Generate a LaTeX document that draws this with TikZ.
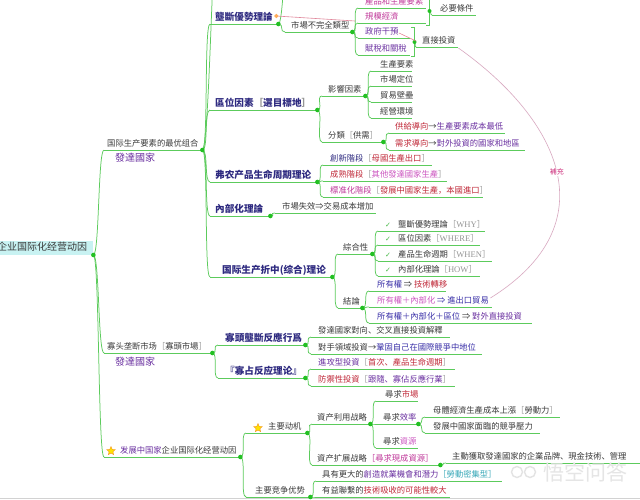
\documentclass[tikz,border=0pt]{standalone}
\usepackage{fontspec}
\setmainfont{Noto Sans CJK SC}
\newfontfamily\lat{Liberation Serif}
\newfontfamily\dv{DejaVu Sans}
\usetikzlibrary{shapes.geometric,calc}
\definecolor{cK}{HTML}{3A3A3A}
\definecolor{cI}{HTML}{2E2A80}
\definecolor{cP}{HTML}{6A30A0}
\definecolor{cM}{HTML}{C0389A}
\definecolor{cR}{HTML}{C02838}
\definecolor{cN}{HTML}{CC55C0}
\definecolor{cB}{HTML}{3A30A8}
\definecolor{cG}{HTML}{959595}
\definecolor{cT}{HTML}{38A8B8}
\definecolor{lg}{HTML}{5CCB5C}
\definecolor{bg}{HTML}{22C022}
\definecolor{rootc}{HTML}{C8F2F2}
\definecolor{relc}{HTML}{D8A8C0}
\newcommand\mybx[3]{\makebox[#2pt][l]{\hspace*{#1pt}#3}}
\newcommand\gbr[1]{\textcolor{cG}{［}#1\textcolor{cG}{］}}
\newcommand\ltn[1]{\textcolor{cG}{［{\lat\fontsize{8.6}{9}\selectfont #1}］}}
\begin{document}
\begin{tikzpicture}[x=1pt,y=-1pt,
  t/.style={anchor=south west, inner xsep=0pt, inner ysep=1.5pt, text height=6.4pt, text depth=1.4pt, font=\fontsize{8.3}{9}\selectfont, text=cK},
  lv/.style={font=\fontsize{9.6}{10}\selectfont\bfseries, text=cI, text height=7.4pt, text depth=1.7pt},
  br/.style={draw=lg, line width=0.75pt},
  blob/.style={fill=bg},
  rel/.style={draw=relc, line width=0.6pt},
  strs/.style={star, star points=5, star point ratio=2.2, fill=yellow!85!orange, draw=orange!80!brown, line width=0.3pt, minimum size=9pt, inner sep=0pt},
  ick/.style={text=green!45!gray, font=\dv\fontsize{7}{8}\selectfont, inner sep=0pt},
  fa/.style={anchor=west, inner sep=0pt, font=\fontsize{10}{11}\selectfont, text=cP}
]
\useasboundingbox (0,0) rectangle (640,499);
\clip (0,0) rectangle (640,499);
\fill[white] (0,0) rectangle (640,499);
\draw[gray!35] (0,498.2) -- (640,498.2);

% root
\node[t, fill=rootc, inner ysep=2.5pt, font=\fontsize{10}{11}\selectfont, text height=7.6pt, text depth=1.6pt] (root) at (-5,255) {\mybx{2}{98}{企业国际化经营动因}};

% level 1
\node[t] (L1a) at (104,150) {\mybx{3}{98}{国际生产要素的最优组合}};
\node[fa] (dv1) at (115,157.5) {發達國家};
\node[t] (L1b) at (104,353) {\mybx{3}{108}{寡头垄断市场\gbr{寡頭市場}}};
\node[fa] (dv2) at (115,362) {發達國家};
\node[t] (L1c) at (104,457) {\mybx{16}{136}{\textcolor{cP}{发展中国家}企业国际化经营动因}};
\node[strs] (s1) at (111,451) {};

% level 2
\node[t,lv] (A1) at (210,24) {\mybx{5}{68}{壟斷優勢理論}};
\node[t,lv] (A2) at (210,110) {\mybx{5}{107}{區位因素\textcolor{cG}{［}選目標地\textcolor{cG}{］}}};
\node[t,lv] (A3) at (210,182) {\mybx{5}{107}{弗农产品生命周期理论}};
\node[t,lv] (A4) at (210,216) {\mybx{5}{60}{內部化理論}};
\node[t,lv] (A5) at (210,277) {\mybx{12}{122}{国际生产折中(综合)理论}};
\node[t,lv] (A6) at (218,345) {\mybx{7}{87}{寡頭壟斷反應行爲}};
\node[t,lv] (A7) at (218,378) {\mybx{7}{87}{『寡占反应理论』}};
\node[t] (A8) at (246,433) {\mybx{22}{61}{主要动机}};
\node[strs] (s2) at (258,428) {};
\node[t] (A9) at (246,497) {\mybx{9}{64}{主要竞争优势}};

% level 3
\node[t] (B1) at (285,32) {\mybx{6}{67}{市場不完全類型}};
\node[t] (B2) at (322,96) {\mybx{6}{43}{影響因素}};
\node[t] (B3) at (322,142) {\mybx{6}{61}{分類\gbr{供需}}};
\node[t] (B4) at (323,165) {\mybx{7}{109}{\textcolor{cI}{創新階段}\gbr{\textcolor{cR}{母國生產出口}}}};
\node[t] (B5) at (323,181) {\mybx{7}{124}{\textcolor{cR}{成熟階段}\gbr{\textcolor{cN}{其他發達國家生產}}}};
\node[t] (B6) at (323,197) {\mybx{7}{160}{\textcolor{cM}{標准化階段}\gbr{\textcolor{cR}{發展中國家生產，本國進口}}}};
\node[t] (B7) at (275,213) {\mybx{7}{101}{市場失效⇒交易成本增加}};
\node[t] (B8) at (338,254) {\mybx{5}{34}{綜合性}};
\node[t] (B9) at (338,308) {\mybx{5}{24}{結論}};
\node[t] (B10) at (311,337) {\mybx{7}{139}{發達國家對向、交叉直接投資解釋}};
\node[t] (B11) at (311,354) {\mybx{7}{171}{對手領域投資→\textcolor{cB}{鞏固自己在國際競爭中地位}}};
\node[t] (B12) at (311,369) {\mybx{7}{144}{\textcolor{cP}{進攻型投資}\gbr{\textcolor{cR}{首次、產品生命週期}}}};
\node[t] (B13) at (311,386) {\mybx{7}{144}{\textcolor{cR}{防禦性投資}\gbr{\textcolor{cP}{跟隨、寡佔反應行業}}}};
\node[t] (B14) at (312,424) {\mybx{5}{58}{資产利用战略}};
\node[t] (B15) at (312,465) {\mybx{5}{128}{資产扩展战略\textcolor{cM}{［尋求現成資源］}}};
\node[t] (B16) at (316,481) {\mybx{6}{186}{具有更大的\textcolor{cP}{創造就業機會和潛力}\textcolor{cT}{［勞動密集型］}}};
\node[t] (B17) at (316,497) {\mybx{6}{134}{有益聯繫的\textcolor{cR}{技術吸收的可能性較大}}};

% level 4
\node[t] (C1) at (358,8) {\mybx{7}{68}{\textcolor{cM}{產品和生產要素}}};
\node[t] (C2) at (358,23) {\mybx{7}{68}{\textcolor{cM}{規模經濟}}};
\node[t] (C3) at (358,38) {\mybx{7}{52}{\textcolor{cP}{政府干預}}};
\node[t] (C4) at (358,55) {\mybx{7}{52}{\textcolor{cP}{賦稅和關稅}}};
\node[t] (C5) at (371,71) {\mybx{9}{41}{生產要素}};
\node[t] (C6) at (371,86) {\mybx{9}{41}{市場定位}};
\node[t] (C7) at (371,102) {\mybx{9}{41}{貿易壁壘}};
\node[t] (C8) at (371,118) {\mybx{9}{41}{經營環境}};
\node[t] (C9) at (389,133) {\mybx{6}{116}{\textcolor{cR}{供給導向}→\textcolor{cP}{生產要素成本最低}}};
\node[t] (C10) at (389,150) {\mybx{6}{136}{\textcolor{cR}{需求導向}→\textcolor{cP}{對外投資的國家和地區}}};
\node[t] (C11) at (378,231) {\mybx{20}{107}{壟斷優勢理論\ltn{WHY}}};
\node[t] (C12) at (378,245) {\mybx{20}{102}{區位因素\ltn{WHERE}}};
\node[t] (C13) at (378,261) {\mybx{20}{114}{產品生命週期\ltn{WHEN}}};
\node[t] (C14) at (378,276) {\mybx{20}{102}{內部化理論\ltn{HOW}}};
\node[ick] (k1) at (388,225) {✓};
\node[ick] (k2) at (388,239) {✓};
\node[ick] (k3) at (388,255) {✓};
\node[ick] (k4) at (388,270) {✓};
\node[t] (C15) at (369,291) {\mybx{8}{77}{\textcolor{cB}{所有權} ⇒ \textcolor{cR}{技術轉移}}};
\node[t] (C16) at (369,307) {\mybx{8}{123}{\textcolor{cN}{所有權＋內部化} \textcolor{cB}{⇒ 進出口貿易}}};
\node[t] (C17) at (369,323) {\mybx{8}{163}{\textcolor{cB}{所有權＋內部化＋區位} ⇒ \textcolor{cP}{對外直接投資}}};
\node[t] (C18) at (376,401) {\mybx{9}{42}{尋求\textcolor{cR}{市場}}};
\node[t] (C19) at (376,424) {\mybx{7}{42}{尋求\textcolor{cP}{效率}}};
\node[t] (C20) at (376,448) {\mybx{7}{42}{尋求\textcolor{cN}{資源}}};
\node[t] (C21) at (446,463) {\mybx{6}{200}{主動獲取發達國家的企業品牌、現金技術、管理}};

% level 5
\node[t] (D1) at (432,15) {\mybx{8}{44}{必要條件}};
\node[t] (D2) at (416,47) {\mybx{6}{42}{直接投資}};
\node[t] (D3) at (425,417) {\mybx{8}{135}{母體經濟生產成本上漲\gbr{勞動力}}};
\node[t] (D4) at (425,433) {\mybx{8}{115}{發展中國家面臨的競爭壓力}};

% underlines
\foreach \n in {L1a,L1b,L1c,A1,A2,A3,A4,A5,A6,A7,A8,A9,B1,B2,B3,B4,B5,B6,B7,B8,B9,B10,B11,B12,B13,B14,B15,B16,B17,C1,C2,C3,C4,C5,C6,C7,C8,C9,C10,C11,C12,C13,C14,C15,C16,C17,C18,C19,C20,C21,D1,D2,D3,D4}
  \draw[br] (\n.south west) -- (\n.south east);

% brackets
\coordinate (bt1) at (426,-4); \coordinate (bb1) at (426,25); \coordinate (bm1) at (429.5,11);
\draw[br] (bt1) -- ++(3.5,0) -- ++(0,29) -- (bb1);
\coordinate (bt2) at (411,27); \coordinate (bb2) at (411,56); \coordinate (bm2) at (414.5,42);
\draw[br] (bt2) -- ++(3.5,0) -- ++(0,29) -- (bb2);

% connectors
\foreach \p/\c in {root/L1a,root/L1b,root/L1c,
  L1a/A1,L1a/A2,L1a/A3,L1a/A4,L1a/A5,
  A1/B1,B1/C1,B1/C2,B1/C3,B1/C4,
  A2/B2,A2/B3,B2/C5,B2/C6,B2/C7,B2/C8,B3/C9,B3/C10,
  A3/B4,A3/B5,A3/B6,A4/B7,A5/B8,A5/B9,
  B8/C11,B8/C12,B8/C13,B8/C14,B9/C15,B9/C16,B9/C17,
  L1b/A6,L1b/A7,A6/B10,A6/B11,A7/B12,A7/B13,
  L1c/A8,L1c/A9,A8/B14,A8/B15,B14/C18,B14/C19,B14/C20,C19/D3,C19/D4,B15/C21,A9/B16,A9/B17}
  \draw[br] (\p.south east) .. controls +(6,0) and +(-6,0) .. (\c.south west);
\draw[br] (bm1) .. controls +(2,0) and +(-2,0) .. (D1.south west);
\draw[br] (bm2) .. controls +(2,0) and +(-2,0) .. (D2.south west);
\coordinate (up0) at (214,-30);
\coordinate (up1) at (285,-30);
\draw[br] (L1a.south east) .. controls +(6,0) and +(-2,0) .. (up0);
\draw[br] (A1.south east) .. controls +(4,0) and +(-1,0) .. (up1);

% junction blobs
\foreach \n in {root,L1a,L1b,L1c,A1,A2,A3,A4,A5,A6,A7,A8,A9,B1,B2,B3,B8,B9,B14,B15,C19}
  \fill[blob] (\n.south east) circle (2.3pt);
\fill[blob] (bm1) circle (2pt);
\fill[blob] (bm2) circle (2pt);

% relations
\coordinate (r1s) at ($(A1.south east)+(-2,-8)$);
\draw[draw=relc!80!red, line width=0.6pt] (r1s) -- ($(C2.south west)+(-3,-2)$);
\node[diamond, fill=orange!65, inner sep=0pt, minimum size=4.5pt] (dm) at (r1s) {};
\draw[draw=relc!70!red, line width=0.5pt] ($(C3.south west)+(41,-5)$) -- ($(D2.south west)+(0,-6)$);
\draw[rel] ($(D2.south east)+(0,1)$) .. controls (560,120) and (609,224) .. ($(C16.south east)+(-2,-9)$)
  node[pos=0.5, fill=white, inner sep=1pt, text=cM!80!red, font=\fontsize{7}{8}\selectfont] (bc) {補充};

% watermark
\node[text=gray!20, font=\fontsize{21}{22}\selectfont, inner sep=0pt] (wm) at (585,472) {悟空问答};
\draw[gray!22, line width=1.4pt] (517,472) circle (5.5pt);
\draw[gray!22, line width=1.4pt] (530,472) circle (5.5pt);
\end{tikzpicture}
\end{document}
